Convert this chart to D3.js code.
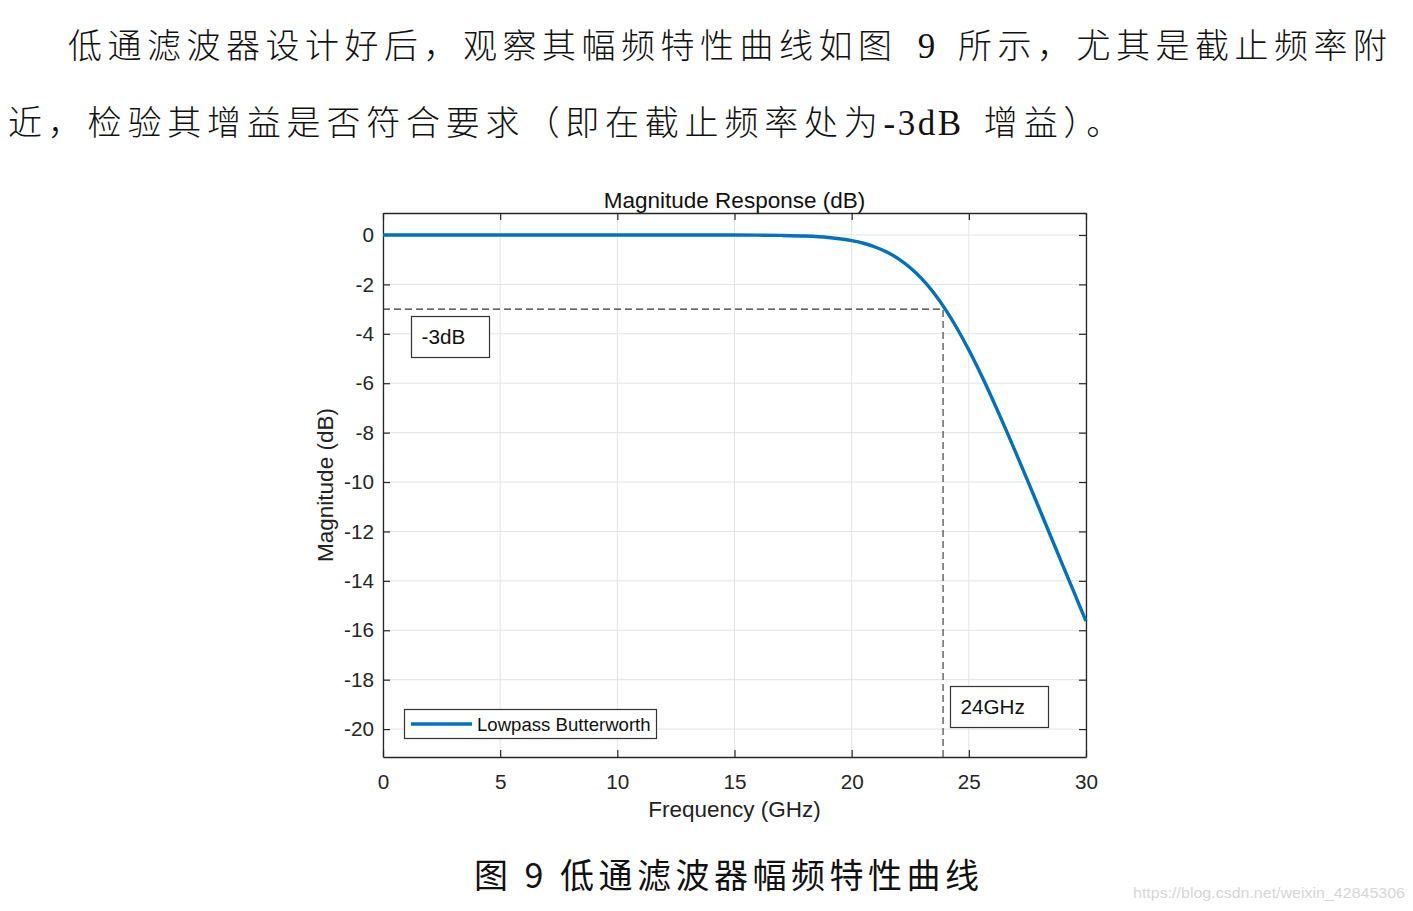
<!DOCTYPE html>
<html><head><meta charset="utf-8">
<script src="https://cdn.jsdelivr.net/npm/d3@7/dist/d3.min.js"></script>
<style>
html,body{margin:0;padding:0;background:#fff;}
svg{display:block;}
</style></head>
<body>
<svg id="c" width="1413" height="911"></svg>
<script>
// ---- data ----
const freqGHz = [0,2,4,6,8,10,12,14,15,16,17,18,19,20,20.5,21,21.5,22,22.5,23,23.5,24,24.5,25,25.5,26,26.5,27,27.5,28,28.5,29,29.5,30];
const magDB   = [0,0,0,0,0,0,-0.0002,-0.0009,-0.0024,-0.0066,-0.0174,-0.043,-0.102,-0.229,-0.335,-0.485,-0.69,-0.964,-1.324,-1.778,-2.341,-3.01,-3.786,-4.657,-5.609,-6.627,-7.695,-8.798,-9.924,-11.06,-12.21,-13.35,-14.49,-15.63];
const xTicks = [0,5,10,15,20,25,30];
const yTicks = [0,-2,-4,-6,-8,-10,-12,-14,-16,-18,-20];
const cutoff = {f: 23.9, db: -3};
const seriesName = "Lowpass Butterworth";
const titleText = "Magnitude Response (dB)";
const xLabel = "Frequency (GHz)";
const yLabel = "Magnitude (dB)";
// paragraph segments: [text, isLatin]
const para1 = [["低通滤波器设计好后，观察其幅频特性曲线如图",false],[" 9 ",true],["所示，尤其是截止频率附",false]];
const para2 = [["近，检验其增益是否符合要求（即在截止频率处为",false],["-3dB ",true],["增益）。",false]];
const caption = "图 9 低通滤波器幅频特性曲线";
const watermark = "https://blog.csdn.net/weixin_42845306";

// ---- layout ----
const svg = d3.select("#c");
const L = 383, R = 1086, T = 213, B = 757;
const x = d3.scaleLinear().domain([0,30]).range([L,R]);
const y = d3.scaleLinear().domain([-21.13,0.89]).range([B,T]);
const font = "'Liberation Sans', Arial, Helvetica, sans-serif";
const cjk = "'Noto Sans CJK SC', sans-serif";
const serif = "'Liberation Serif', 'DejaVu Serif', serif";
const axisCol = "#262626";

// paragraph text
function para(x0, y0, segs, cjkSpacing){
  const t = svg.append("text").attr("x",x0).attr("y",y0).attr("font-size",34).attr("fill","#111")
    .attr("xml:space","preserve").style("white-space","pre");
  segs.forEach(([s,lat])=>{
    t.append("tspan").attr("font-family",lat?serif:cjk).attr("font-weight",lat?400:300)
      .attr("font-size",lat?35:34).attr("letter-spacing",lat?2.5:cjkSpacing)
      .attr("word-spacing",lat?9:0).text(s);
  });
}
para(68,58,para1,5.5);
para(8,135,para2,5.8);

// grid
const g = svg.append("g");
g.selectAll(".gx").data(xTicks).join("line")
  .attr("x1",d=>x(d)).attr("x2",d=>x(d)).attr("y1",T).attr("y2",B)
  .attr("stroke","#e3e3e3").attr("stroke-width",1);
g.selectAll(".gy").data(yTicks).join("line")
  .attr("y1",d=>y(d)).attr("y2",d=>y(d)).attr("x1",L).attr("x2",R)
  .attr("stroke","#e3e3e3").attr("stroke-width",1);

// axes (MATLAB style box with inward ticks)
const tk = 7;
const fmt = d => String(d);
const xb = d3.axisBottom(x).tickValues(xTicks).tickFormat(fmt).tickSizeInner(-tk).tickSizeOuter(0).tickPadding(17);
const xt = d3.axisTop(x).tickValues(xTicks).tickSizeInner(-tk).tickSizeOuter(0).tickFormat("");
const yl = d3.axisLeft(y).tickValues(yTicks).tickFormat(fmt).tickSizeInner(-tk).tickSizeOuter(0).tickPadding(9);
const yr = d3.axisRight(y).tickValues(yTicks).tickSizeInner(-tk).tickSizeOuter(0).tickFormat("");
function styleAx(sel){
  sel.select(".domain").attr("stroke",axisCol).attr("stroke-width",1.3);
  sel.selectAll(".tick line").attr("stroke",axisCol).attr("stroke-width",1.2);
  sel.selectAll(".tick text").attr("fill",axisCol).attr("font-family",font).attr("font-size",20.7);
}
styleAx(svg.append("g").attr("transform",`translate(0,${B})`).call(xb));
styleAx(svg.append("g").attr("transform",`translate(0,${T})`).call(xt));
styleAx(svg.append("g").attr("transform",`translate(${L},0)`).call(yl));
styleAx(svg.append("g").attr("transform",`translate(${R},0)`).call(yr));

// dashed cutoff guides
svg.append("path")
  .attr("d",`M${x(0)},${y(cutoff.db)}H${x(cutoff.f)}V${B}`)
  .attr("fill","none").attr("stroke","#333").attr("stroke-width",1.1).attr("stroke-dasharray","7,4");

// curve
const line = d3.line().x((d,i)=>x(freqGHz[i])).y(d=>y(d)).curve(d3.curveMonotoneX);
svg.append("path").datum(magDB).attr("d",line)
  .attr("fill","none").attr("stroke","#0072BD").attr("stroke-width",3.4);

// annotation boxes
function box(bx,by,w,h,txt){
  svg.append("rect").attr("x",bx).attr("y",by).attr("width",w).attr("height",h)
    .attr("fill","#fff").attr("stroke","#333").attr("stroke-width",1.2);
  svg.append("text").attr("x",bx+10).attr("y",by+h/2).attr("dy","0.35em")
    .attr("font-family",font).attr("font-size",20.7).attr("fill","#111").text(txt);
}
box(411.5,316.5,78,41,"-3dB");
box(950.5,686.5,98,41,"24GHz");

// legend
svg.append("rect").attr("x",404.5).attr("y",709.5).attr("width",252).attr("height",29)
  .attr("fill","#fff").attr("stroke","#333").attr("stroke-width",1.2);
svg.append("line").attr("x1",411).attr("x2",472).attr("y1",724).attr("y2",724)
  .attr("stroke","#0072BD").attr("stroke-width",3.4);
svg.append("text").attr("x",477).attr("y",724).attr("dy","0.35em")
  .attr("font-family",font).attr("font-size",18.6).attr("fill","#111").text(seriesName);

// titles
svg.append("text").attr("x",(L+R)/2).attr("y",208).attr("text-anchor","middle")
  .attr("font-family",font).attr("font-size",22.5).attr("fill","#111").text(titleText);
svg.append("text").attr("x",(L+R)/2).attr("y",817).attr("text-anchor","middle")
  .attr("font-family",font).attr("font-size",22.5).attr("fill","#222").text(xLabel);
svg.append("text").attr("transform",`translate(333,${(T+B)/2}) rotate(-90)`).attr("text-anchor","middle")
  .attr("font-family",font).attr("font-size",22.5).attr("fill","#222").text(yLabel);

// caption
svg.append("text").attr("x",474).attr("y",888).attr("font-family",cjk).attr("font-size",34).attr("font-weight",400)
  .attr("letter-spacing",4.5).attr("fill","#111").text(caption);
// watermark
svg.append("text").attr("x",1405).attr("y",898).attr("text-anchor","end").attr("font-family",font)
  .attr("font-size",15).attr("fill","#d6d6d6").attr("textLength",272).attr("lengthAdjust","spacingAndGlyphs").text(watermark);
</script>
</body></html>
